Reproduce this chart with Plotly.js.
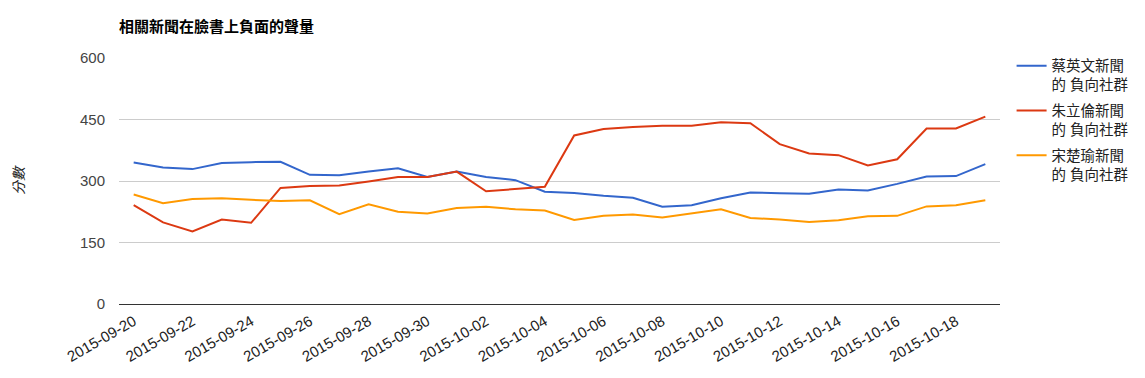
<!DOCTYPE html>
<html>
<head>
<meta charset="utf-8">
<script src="https://cdn.plot.ly/plotly-3.0.1.min.js"></script>
<style>html,body{margin:0;padding:0;background:#fff;}#chart{width:1145px;height:378px;}</style>
</head>
<body>
<div id="chart"></div>
<script>
const dates = ["2015-09-20","2015-09-21","2015-09-22","2015-09-23","2015-09-24","2015-09-25","2015-09-26","2015-09-27","2015-09-28","2015-09-29",
"2015-09-30","2015-10-01","2015-10-02","2015-10-03","2015-10-04","2015-10-05","2015-10-06","2015-10-07","2015-10-08","2015-10-09",
"2015-10-10","2015-10-11","2015-10-12","2015-10-13","2015-10-14","2015-10-15","2015-10-16","2015-10-17","2015-10-18","2015-10-19"];
const tsai = [345,333,329,344,346,347,315,314,323,331,310,323,310,302,274,271,264,259,237,241,258,272,270,269,279,277,293,311,312,341];
const chu  = [241,199,177,206,198,283,288,289,299,310,310,323,275,280,286,411,427,432,435,435,443,441,390,367,363,338,353,428,428,457];
const soong= [267,246,256,258,254,251,253,219,243,225,221,234,237,231,228,205,215,218,211,221,231,210,206,200,204,214,215,238,241,253];
const seriesNames = ["蔡英文新聞<br>的 負向社群","朱立倫新聞<br>的 負向社群","宋楚瑜新聞<br>的 負向社群"];
const colors = ["#3366cc","#dc3912","#ff9900"];
const yTicks = [0,150,300,450,600];
const chartTitle = "相關新聞在臉書上負面的聲量";
const yTitle = "分數";

const FONT = "Arial, 'Liberation Sans', 'Noto Sans CJK TC', sans-serif";
const traces = [tsai, chu, soong].map((ys, i) => ({
  x: dates, y: ys, type: "scatter", mode: "lines", name: seriesNames[i],
  legendgroup: "g" + i,
  line: {color: colors[i], width: 2}, hoverinfo: "skip"
}));

const layout = {
  width: 1145, height: 378,
  margin: {l: 119, r: 144, t: 58, b: 74, pad: 0},
  paper_bgcolor: "#fff", plot_bgcolor: "#fff",
  font: {family: FONT, size: 15, color: "#222"},
  title: {text: "<b>" + chartTitle + "</b>", x: 119/1145, xanchor: "left", y: 1 - 27/378, yanchor: "middle",
          font: {family: FONT, size: 15, color: "#000"}},
  showlegend: true,
  legend: {x: 1.012, xanchor: "left", y: 1.033, yanchor: "top", font: {family: FONT, size: 14.5, color: "#222"},
           tracegroupgap: 4, itemwidth: 30, valign: "top", bgcolor: "rgba(0,0,0,0)"},
  xaxis: {type: "date", range: ["2015-09-19 12:00", "2015-10-19 12:00"],
          tickmode: "linear", tick0: "2015-09-20", dtick: 2*86400000, tickformat: "%Y-%m-%d",
          tickangle: -30, showgrid: false, zeroline: false, showline: false, ticks: "", ticklabelstandoff: 5,
          tickfont: {family: FONT, size: 15, color: "#222"}},
  yaxis: {range: [0, 600], tickvals: yTicks, ticktext: yTicks.map(String), showgrid: true, gridcolor: "#cccccc", gridwidth: 1,
          zeroline: true, zerolinecolor: "#333333", zerolinewidth: 1, showline: false, ticks: "", ticklen: 0,
          ticklabelstandoff: 13,
          tickfont: {family: FONT, size: 15, color: "#444"}, automargin: false,
          title: {text: "<i>" + yTitle + "</i>", standoff: 52, font: {family: FONT, size: 14, color: "#222"}}}
};
Plotly.newPlot("chart", traces, layout, {displayModeBar: false, staticPlot: true});
</script>
</body>
</html>
